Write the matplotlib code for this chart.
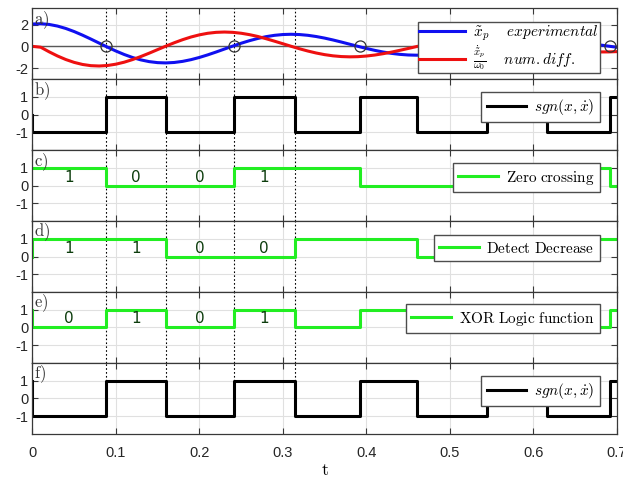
import matplotlib
matplotlib.use("Agg")
import matplotlib.pyplot as plt

plt.rcParams["mathtext.fontset"] = "cm"
plt.rcParams["font.family"] = ["Liberation Sans", "DejaVu Sans"]
plt.rcParams["axes.unicode_minus"] = False

# sampled response
t = [0.00, 0.01, 0.02, 0.03, 0.04, 0.05, 0.06, 0.07, 0.08, 0.09,
     0.10, 0.11, 0.12, 0.13, 0.14, 0.15, 0.16, 0.17, 0.18, 0.19,
     0.20, 0.21, 0.22, 0.23, 0.24, 0.25, 0.26, 0.27, 0.28, 0.29,
     0.30, 0.31, 0.32, 0.33, 0.34, 0.35, 0.36, 0.37, 0.38, 0.39,
     0.40, 0.41, 0.42, 0.43, 0.44, 0.45, 0.46, 0.47, 0.48, 0.49,
     0.50, 0.51, 0.52, 0.53, 0.54, 0.55, 0.56, 0.57, 0.58, 0.59,
     0.60, 0.61, 0.62, 0.63, 0.64, 0.65, 0.66, 0.67, 0.68, 0.69, 0.70]
x_exp = [2.049, 2.073, 2.009, 1.861, 1.640, 1.358, 1.029, 0.671, 0.298, -0.072,
         -0.425, -0.745, -1.020, -1.240, -1.398, -1.490, -1.516, -1.475, -1.373, -1.217,
         -1.015, -0.779, -0.519, -0.246, 0.025, 0.285, 0.521, 0.725, 0.891, 1.011,
         1.084, 1.107, 1.082, 1.013, 0.902, 0.758, 0.587, 0.399, 0.200, 0.002,
         -0.189, -0.363, -0.516, -0.640, -0.731, -0.788, -0.809, -0.794, -0.746, -0.669,
         -0.566, -0.443, -0.306, -0.161, -0.016, 0.124, 0.253, 0.366, 0.459, 0.528,
         0.573, 0.590, 0.582, 0.550, 0.495, 0.422, 0.333, 0.234, 0.129, 0.023, -0.080]
v_num = [0.000, -0.079, -0.497, -0.878, -1.205, -1.467, -1.656, -1.767, -1.798, -1.751,
         -1.631, -1.448, -1.209, -0.928, -0.620, -0.296, 0.025, 0.333, 0.614, 0.858,
         1.054, 1.199, 1.285, 1.313, 1.285, 1.203, 1.074, 0.908, 0.700, 0.476,
         0.241, 0.006, -0.220, -0.428, -0.609, -0.757, -0.866, -0.934, -0.959, -0.943,
         -0.886, -0.795, -0.673, -0.528, -0.365, -0.195, -0.022, 0.144, 0.298, 0.433,
         0.543, 0.626, 0.678, 0.700, 0.691, 0.653, 0.589, 0.503, 0.398, 0.278,
         0.155, 0.029, -0.093, -0.206, -0.306, -0.389, -0.452, -0.493, -0.511, -0.507, -0.481]

# zero crossings of the position signal and of its derivative
t_zero_x = [0.088, 0.241, 0.392, 0.545, 0.692]
t_zero_v = [0.160, 0.314, 0.461, 0.617]
t_switch = sorted(t_zero_x + t_zero_v)
t_end = 0.70

# logic levels on each interval between switching instants
sgn_levels = [-1, 1, -1, 1, -1, 1, -1, 1, -1, 1]
zc_levels = [1, 0, 0, 1, 1, 0, 0, 1, 1, 0]
dd_levels = [1, 1, 0, 0, 1, 1, 0, 0, 1, 1]
xor_levels = [0, 1, 0, 1, 0, 1, 0, 1, 0, 1]

# initial sample of each step signal at t = 0
start_b = 0
start_c = 1
start_d = 0
start_e = 1
start_f = 1

# intervals annotated with their bit value
n_bits_shown = 4
dotted_marks = t_switch[:4]

xticks = [0, 0.1, 0.2, 0.3, 0.4, 0.5, 0.6, 0.7]
xtick_labels = ["0", "0.1", "0.2", "0.3", "0.4", "0.5", "0.6", "0.7"]

BLUE = "#1010f0"
RED = "#ee1010"
GREEN = "#22ee22"
DARKGREEN = "#0d3d0d"
FRAME = "0.22"


def step_xy(start, levels):
    xs = [0.0, 0.0] + t_switch + [t_end]
    ys = [start] + levels + [levels[-1]]
    return xs, ys


fig = plt.figure(figsize=(6.23, 4.8), dpi=100)
axes = fig.subplots(6, 1, sharex=True)
fig.subplots_adjust(left=0.052, right=0.990, top=0.983, bottom=0.096, hspace=0)

for ax in axes:
    ax.set_xlim(0, 0.7)
    ax.set_xticks(xticks)
    ax.grid(True, color="0.88", lw=0.8)
    ax.set_axisbelow(True)
    ax.tick_params(direction="in", top=True, right=True, length=4, width=0.8,
                   color=FRAME, labelsize=10.5, labelcolor="0.15", pad=3)
    for s in ax.spines.values():
        s.set_color(FRAME)
        s.set_linewidth(0.9)

legend_kw = dict(loc="center right", fancybox=False, framealpha=1,
                 edgecolor="0.3", handlelength=2.6, borderpad=0.35,
                 handletextpad=0.5, borderaxespad=0, fontsize=11)

# a) experimental position and numerically differentiated velocity
ax = axes[0]
ax.set_ylim(-3, 3.5)
ax.set_yticks([-2, 0, 2])
ax.set_yticklabels(["-2", "0", "2"])
ax.axhline(0, color="0.35", lw=1.0, zorder=1)
ax.plot(t, x_exp, color=BLUE, lw=2.2, label=r"$\tilde{x}_p\quad\ experimental$")
ax.plot(t, v_num, color=RED, lw=2.2,
        label=r"$\frac{\dot{\tilde{x}}_p}{\omega_0}\quad\ num.diff.$")
ax.plot(t_zero_x, [0] * len(t_zero_x), "o", mfc="none", mec="0.2", ms=8, mew=0.9,
        zorder=5)
kw_a = dict(legend_kw)
kw_a.update(fontsize=11, labelspacing=0.02, borderpad=0.1, handlelength=3.0)
ax.legend(bbox_to_anchor=(0.971, 0.444), **kw_a)

# b) sign of x * xdot
ax = axes[1]
ax.set_ylim(-2, 2)
xs, ys = step_xy(start_b, sgn_levels)
ax.step(xs, ys, where="post", color="black", lw=2.2, label=r"$sgn(x,\dot{x})$")
ax.legend(bbox_to_anchor=(0.971, 0.607), **legend_kw)

# c) zero crossing flip-flop
ax = axes[2]
ax.set_ylim(-2, 2)
xs, ys = step_xy(start_c, zc_levels)
ax.step(xs, ys, where="post", color=GREEN, lw=2.2, label=r"$\mathrm{Zero\ crossing}$")
ax.legend(bbox_to_anchor=(0.971, 0.611), **legend_kw)

# d) decrease detection
ax = axes[3]
ax.set_ylim(-2, 2)
xs, ys = step_xy(start_d, dd_levels)
ax.step(xs, ys, where="post", color=GREEN, lw=2.2, label=r"$\mathrm{Detect\ Decrease}$")
ax.legend(bbox_to_anchor=(0.971, 0.62), **legend_kw)

# e) XOR of c) and d)
ax = axes[4]
ax.set_ylim(-2, 2)
xs, ys = step_xy(start_e, xor_levels)
ax.step(xs, ys, where="post", color=GREEN, lw=2.2,
        label=r"$\mathrm{XOR\ Logic\ function}$")
ax.legend(bbox_to_anchor=(0.971, 0.623), **legend_kw)

# f) reconstructed sign signal
ax = axes[5]
ax.set_ylim(-2, 2)
xs, ys = step_xy(start_f, sgn_levels)
ax.step(xs, ys, where="post", color="black", lw=2.2, label=r"$sgn(x,\dot{x})$")
ax.legend(bbox_to_anchor=(0.971, 0.606), **legend_kw)

for ax in axes[1:]:
    ax.set_yticks([-1, 0, 1])
    ax.set_yticklabels(["-1", "0", "1"])

# bit values written on the first intervals
bounds = [0.0] + t_switch
for ax, levels in ((axes[2], zc_levels), (axes[3], dd_levels), (axes[4], xor_levels)):
    for i in range(n_bits_shown):
        mid = 0.5 * (bounds[i] + bounds[i + 1])
        ax.text(mid, 0.48, str(levels[i]), color=DARKGREEN, fontsize=11,
                family="DejaVu Sans", ha="center", va="center", zorder=6)

# dotted guides at the first switching instants
for ax in axes[:5]:
    for tm in dotted_marks:
        ax.axvline(tm, color="black", lw=0.8, ls=(0, (1.5, 2)), zorder=0.5)
for tm in dotted_marks:
    axes[5].axvline(tm, ymin=0.75, ymax=1.0, color="black", lw=0.8,
                    ls=(0, (1.5, 2)), zorder=0.5)

# panel letters
for ax, letter in zip(axes, "abcdef"):
    ax.text(0.002, 0.99, r"$\mathrm{%s)}$" % letter, transform=ax.transAxes,
            ha="left", va="top", fontsize=12, color="0.2")

axes[5].set_xticklabels(xtick_labels)
axes[5].tick_params(axis="x", pad=9)
axes[5].set_xlabel(r"$\mathrm{t}$", fontsize=13, labelpad=1)

fig.savefig("out.png", dpi=100)
